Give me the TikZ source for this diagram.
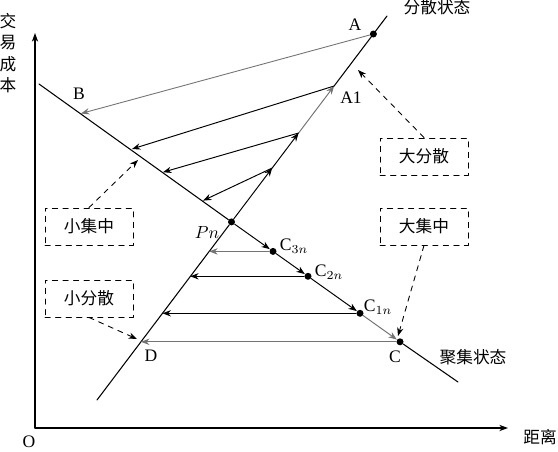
\documentclass[tikz,border=0pt]{standalone}
\usepackage{fontspec}
\setmainfont{Liberation Serif}
\newfontfamily\cjk{Noto Sans CJK SC}
\usetikzlibrary{arrows.meta,positioning,calc}

\begin{document}
\begin{tikzpicture}[
    x=0.02cm, y=-0.02cm,
    >=Stealth,
    font=\fontsize{10}{12}\selectfont,
    line join=round,
    line cap=round,
    axis/.style={-{Stealth[length=5pt,width=3.6pt]}, line width=0.6pt},
    state/.style={line width=0.6pt},
    flow/.style={-{Stealth[length=4.8pt,width=3.6pt]}, line width=0.55pt},
    faint/.style={flow, draw=black!55},
    dot/.style={circle, fill, inner sep=0pt, minimum size=0.14cm},
    tag/.style={
        draw,
        dashed,
        line width=0.5pt,
        minimum width=1.76cm,
        minimum height=0.74cm,
        font=\cjk\fontsize{9.5}{11}\selectfont
    },
    pointer/.style={dashed, line width=0.5pt, -{Stealth[length=4.8pt,width=3.6pt]}},
    cjklabel/.style={font=\cjk\fontsize{9.5}{11}\selectfont}
]
\useasboundingbox (0,0) rectangle (558,451);

% =========================
% Axes
% =========================
\coordinate (orig) at (35,428);
\coordinate (ytop) at (35,33);
\coordinate (xend) at (508,428);
\draw[axis] (orig) -- (ytop);
\draw[axis] (orig) -- (xend);

\node (olabel) at (29,442) {O};
\node (xlabel) [cjklabel] at (540,437) {距离};
\node (ylabel) [cjklabel, align=center, font=\cjk\fontsize{9.5}{12.2}\selectfont] at (8,53) {交\\易\\成\\本};

% =========================
% Points
% =========================
\coordinate (dispS) at (97,400);
\coordinate (dispE) at (387,16);
\coordinate (concS) at (39,84);
\coordinate (concE) at (458,382);

\node[dot] (A) at (373.4,34) {};
\coordinate (A1) at (334.1,86);
\coordinate (up2) at (298.6,133);
\coordinate (up1) at (272.2,168);
\node[dot] (Pn) at (231.5,221.9) {};

\node[dot] (C3n) at (273,251.4) {};
\node[dot] (C2n) at (308,276.3) {};
\node[dot] (C1n) at (360,313.3) {};
\node[dot] (C) at (400,341.8) {};

\coordinate (B) at (81,113.5);
\coordinate (tgt3) at (132,149);
\coordinate (tgt2) at (163,172.2);
\coordinate (tgt1) at (203,200.6);

\coordinate (low3) at (209.2,251.4);
\coordinate (low2) at (190.2,276.3);
\coordinate (low1) at (162.5,313.3);
\coordinate (D) at (141,341.8);

% labels
\node (Alabel) at (355,25) {A};
\node (A1label) at (351,98) {A1};
\node (Blabel) at (79,94) {B};
\node (Pnlabel) at (207,232) {$Pn$};
\node (C3nlabel) at (294,246) {C$_{3n}$};
\node (C2nlabel) at (329,272) {C$_{2n}$};
\node (C1nlabel) at (378,307) {C$_{1n}$};
\node (Clabel) at (395,357) {C};
\node (Dlabel) at (151,356) {D};

\node (dispname) [cjklabel] at (437,7) {分散状态};
\node (concname) [cjklabel] at (473,357) {聚集状态};

% =========================
% Dispersion branch
% =========================
\draw[state] (dispS) -- (Pn);
\draw[flow] (Pn) -- (up1);
\draw[flow] (up1) -- (up2);
\draw[faint] (up2) -- (A1);
\draw[state] (A1) -- (dispE);

\draw[flow] (up1) -- (tgt1);
\draw[flow] (up2) -- (tgt2);
\draw[flow] (A1) -- (tgt3);
\draw[faint, line width=0.5pt] (A) -- (B);

% =========================
% Concentration branch
% =========================
\draw[state] (concS) -- (Pn);
\draw[flow] (Pn) -- (C3n);
\draw[flow] (C3n) -- (C2n);
\draw[flow] (C2n) -- (C1n);
\draw[faint] (C1n) -- (C);
\draw[state] (C) -- (concE);

\draw[faint] (C3n) -- (low3);
\draw[flow] (C2n) -- (low2);
\draw[flow] (C1n) -- (low1);
\draw[faint] (C) -- (D);

% =========================
% Notes
% =========================
\node[tag] (smallconc) at (89,226.5) {小集中};
\node[tag] (smalldisp) at (89,298.5) {小分散};
\node[tag] (bigdisp) at (424,156.5) {大分散};
\node[tag] (bigconc) at (424,226.5) {大集中};

\coordinate (scTip) at (138,160);
\coordinate (sdTip) at (137,339);
\coordinate (bdTip) at (358,70);
\coordinate (bcTip) at (398,336);

\draw[pointer] (smallconc.north) -- (scTip);
\draw[pointer] (smalldisp.south) -- (sdTip);
\draw[pointer] (bigdisp.north) -- (bdTip);
\draw[pointer] (bigconc.south) -- (bcTip);

\end{tikzpicture}
\end{document}
